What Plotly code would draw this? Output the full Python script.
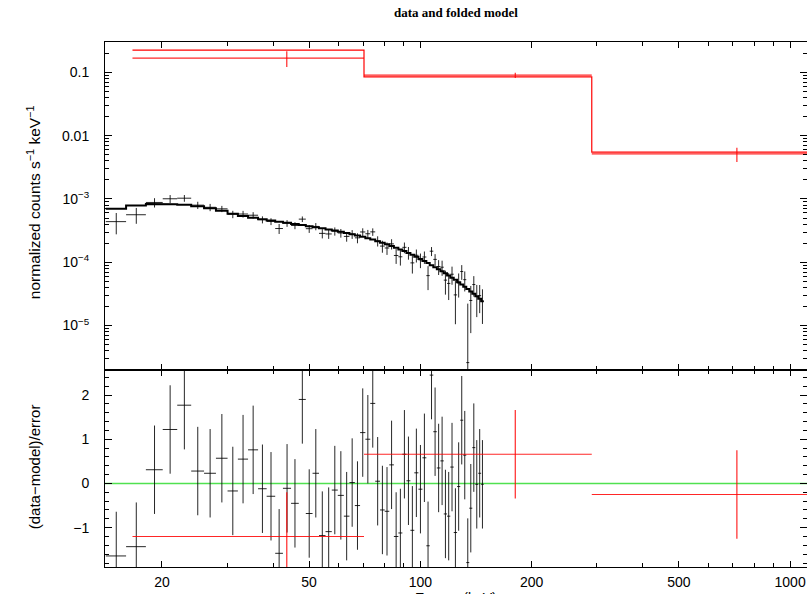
import plotly.graph_objects as go

# ---- spectrum 1 (black): channel edges in keV, folded model, data, 1-sigma errors ----
edges = [14.1, 16.0, 18.1, 20.1, 22.0, 24.0, 26.0, 28.0, 30.1, 32.1, 34.2, 36.4,
         38.4, 40.5, 42.5, 44.7, 46.9, 49.0, 51.1, 53.2, 55.4, 57.6, 59.8, 62.1,
         64.3, 66.5, 68.7, 71.0, 73.2, 75.5, 77.8, 80.1, 82.4, 84.8, 87.2, 89.4,
         91.7, 94.0, 96.3, 98.8, 101.3, 103.8, 106.0, 108.4, 110.8, 113.3, 115.7,
         118.1, 120.5, 123.1, 125.7, 128.2, 130.6, 133.1, 135.6, 138.2, 140.8,
         143.4, 146.0, 148.4]

model = [7.03e-4, 7.89e-4, 8.34e-4, 8.28e-4, 8.07e-4, 7.69e-4, 7.16e-4, 6.53e-4,
         5.86e-4, 5.39e-4, 5.03e-4, 4.78e-4, 4.57e-4, 4.38e-4, 4.19e-4, 4.03e-4,
         3.88e-4, 3.72e-4, 3.57e-4, 3.43e-4, 3.30e-4, 3.16e-4, 3.02e-4, 2.89e-4,
         2.77e-4, 2.65e-4, 2.52e-4, 2.40e-4, 2.28e-4, 2.15e-4, 2.03e-4, 1.92e-4,
         1.80e-4, 1.69e-4, 1.59e-4, 1.50e-4, 1.40e-4, 1.31e-4, 1.22e-4, 1.13e-4,
         1.05e-4, 9.71e-5, 9.00e-5, 8.37e-5, 7.75e-5, 7.21e-5, 6.70e-5, 6.19e-5,
         5.71e-5, 5.27e-5, 4.85e-5, 4.46e-5, 4.12e-5, 3.77e-5, 3.46e-5, 3.17e-5,
         2.90e-5, 2.65e-5, 2.43e-5]

flux = [4.38e-4, 5.63e-4, 8.80e-4, 1.006e-3, 1.028e-3, 7.98e-4, 7.38e-4, 6.98e-4,
        5.73e-4, 5.78e-4, 5.53e-4, 4.71e-4, 4.41e-4, 3.41e-4, 4.13e-4, 3.81e-4,
        4.80e-4, 3.39e-4, 3.68e-4, 2.86e-4, 2.80e-4, 3.09e-4, 2.90e-4, 2.56e-4,
        2.78e-4, 2.43e-4, 3.01e-4, 2.82e-4, 3.02e-4, 2.17e-4, 1.80e-4, 1.68e-4,
        1.95e-4, 1.28e-4, 1.22e-4, 1.72e-4, 1.42e-4, 9.77e-5, 1.29e-4, 1.09e-4,
        1.21e-4, 6.15e-5, 1.495e-4, 1.11e-4, 8.54e-5, 8.35e-5, 5.22e-5, 4.63e-5,
        6.47e-5, 3.05e-5, 4.71e-5, 7.14e-5, 5.31e-5, 2.6e-6, 2.49e-5, 4.45e-5,
        2.87e-5, 2.97e-5, 2.40e-5]

flux_err = [1.62e-4, 1.58e-4, 1.48e-4, 1.46e-4, 1.25e-4, 1.04e-4, 9.67e-5, 7.84e-5,
            7.62e-5, 7.01e-5, 6.54e-5, 5.98e-5, 5.48e-5, 6.13e-5, 5.03e-5, 4.84e-5,
            4.85e-5, 4.84e-5, 4.82e-5, 4.80e-5, 4.62e-5, 4.58e-5, 4.53e-5, 4.48e-5,
            4.43e-5, 4.37e-5, 4.28e-5, 4.20e-5, 4.10e-5, 3.98e-5, 3.86e-5, 3.74e-5,
            3.60e-5, 3.38e-5, 3.34e-5, 3.30e-5, 3.22e-5, 3.14e-5, 2.99e-5, 2.83e-5,
            2.68e-5, 2.52e-5, 2.43e-5, 2.34e-5, 2.25e-5, 2.24e-5, 2.14e-5, 2.10e-5,
            2.06e-5, 2.00e-5, 1.94e-5, 1.87e-5, 1.85e-5, 1.96e-5, 1.73e-5, 1.585e-5,
            1.51e-5, 1.40e-5, 1.34e-5]

resid = [-1.64, -1.43, 0.31, 1.22, 1.77, 0.28, 0.23, 0.57, -0.17, 0.55, 0.76, -0.12,
         -0.29, -1.58, -0.11, -0.45, 1.90, -0.68, 0.23, -1.18, -1.09, -0.15, -0.27,
         -0.74, 0.02, -0.50, 1.15, 1.00, 1.81, 0.05, -0.60, -0.63, 0.42, -1.20,
         -1.12, 0.66, 0.06, -1.06, 0.24, -0.13, 0.58, -1.41, 2.45, 1.17, 0.35, 0.51,
         -0.69, -0.74, 0.37, -1.11, -0.07, 1.43, 0.64, -1.79, -0.56, 0.81, -0.02,
         0.23, -0.02]

# ---- spectrum 2 (red): three wide channels ----
red_edges = [16.65, 70.4, 290.8, 1145.0]
red_model = [0.225, 0.0845, 0.00547]
red_flux = [0.168, 0.0901, 0.00514]
red_err = [0.047, 0.0085, 0.0013]
red_resid = [-1.20, 0.66, -0.25]

# ---- axis tick labels ----
x_tickvals = [20, 50, 100, 200, 500, 1000]
x_ticktext = ["20", "50", "100", "200", "500", "1000"]
y_tickvals = [1e-5, 1e-4, 1e-3, 0.01, 0.1]
y_ticktext = ["10<sup>−5</sup>", "10<sup>−4</sup>", "10<sup>−3</sup>", "0.01", "0.1"]
r_tickvals = [-1, 0, 1, 2]
r_ticktext = ["−1", "0", "1", "2"]


def step_line(e, vals):
    xs, ys = [], []
    for i, v in enumerate(vals):
        xs += [e[i], e[i + 1]]
        ys += [v, v]
    return xs, ys


def crosses(e, yc, ylo, yhi):
    xs, ys = [], []
    for i in range(len(yc)):
        c = 0.5 * (e[i] + e[i + 1])
        xs += [e[i], e[i + 1], None, c, c, None]
        ys += [yc[i], yc[i], None, ylo[i], yhi[i], None]
    return xs, ys


def flux_bars(f, err):
    lo = [v - s if v - s > 0 else 1e-9 for v, s in zip(f, err)]
    hi = [v + s for v, s in zip(f, err)]
    return lo, hi


fig = go.Figure()

BLACK = "rgba(0,0,0,0.85)"
RED = "rgba(255,0,0,0.85)"

# upper panel: data and folded model
lo, hi = flux_bars(flux, flux_err)
xs, ys = crosses(edges, flux, lo, hi)
fig.add_trace(go.Scatter(x=xs, y=ys, mode="lines", line=dict(color=BLACK, width=1),
                         xaxis="x2", yaxis="y", hoverinfo="skip"))
xs, ys = step_line(edges, model)
fig.add_trace(go.Scatter(x=xs, y=ys, mode="lines", line=dict(color="black", width=2),
                         xaxis="x2", yaxis="y", hoverinfo="skip"))

lo, hi = flux_bars(red_flux, red_err)
xs, ys = crosses(red_edges, red_flux, lo, hi)
fig.add_trace(go.Scatter(x=xs, y=ys, mode="lines", line=dict(color=RED, width=1.2),
                         xaxis="x2", yaxis="y", hoverinfo="skip"))
xs, ys = step_line(red_edges, red_model)
fig.add_trace(go.Scatter(x=xs, y=ys, mode="lines", line=dict(color="red", width=1.2),
                         xaxis="x2", yaxis="y", hoverinfo="skip"))

# lower panel: residuals in units of sigma
xs, ys = crosses(edges, resid, [r - 1 for r in resid], [r + 1 for r in resid])
fig.add_trace(go.Scatter(x=xs, y=ys, mode="lines", line=dict(color=BLACK, width=1),
                         xaxis="x", yaxis="y2", hoverinfo="skip"))
xs, ys = crosses(red_edges, red_resid, [r - 1 for r in red_resid], [r + 1 for r in red_resid])
fig.add_trace(go.Scatter(x=xs, y=ys, mode="lines", line=dict(color=RED, width=1.2),
                         xaxis="x", yaxis="y2", hoverinfo="skip"))

fig.add_shape(type="line", xref="x domain", x0=0, x1=1, yref="y2", y0=0, y1=0,
              line=dict(color="rgb(80,225,80)", width=1.6), layer="below")

minor_x = [k * 10 ** d for d in (1, 2, 3) for k in range(2, 10)]
minor_y = [k * 10 ** d for d in range(-6, 0) for k in range(2, 10)]

frame = dict(showline=True, linecolor="black", linewidth=1, mirror="ticks",
             ticks="inside", tickcolor="black", tickwidth=1, showgrid=False,
             zeroline=False)

x_common = dict(type="log", range=[1.1471, 3.0457], tickvals=x_tickvals,
                ticktext=x_ticktext, ticklen=6,
                minor=dict(tickvals=minor_x, ticks="inside", ticklen=4,
                           tickcolor="black", showgrid=False), **frame)

fig.update_layout(
    width=807, height=594,
    margin=dict(l=105, r=0, t=42, b=27),
    plot_bgcolor="white", paper_bgcolor="white", showlegend=False,
    font=dict(family="Liberation Sans, Arial, sans-serif", size=14, color="black"),
    xaxis=dict(domain=[0, 1], anchor="y2", ticklabelstandoff=2, **x_common),
    xaxis2=dict(domain=[0, 1], anchor="y", matches="x", showticklabels=False, **x_common),
    yaxis=dict(domain=[0.3745, 1], anchor="x2", type="log", range=[-5.708, -0.521],
               tickvals=y_tickvals, ticktext=y_ticktext, ticklen=7,
               ticklabelstandoff=12,
               minor=dict(tickvals=minor_y, ticks="inside", ticklen=4,
                          tickcolor="black", showgrid=False), **frame),
    yaxis2=dict(domain=[0, 0.3745], anchor="x", range=[-1.89, 2.557],
                tickvals=r_tickvals, ticktext=r_ticktext, ticklen=7,
                ticklabelstandoff=12,
                minor=dict(dtick=0.2, ticks="inside", ticklen=4,
                           tickcolor="black", showgrid=False), **frame),
)

fig.add_annotation(text="<b>data and folded model</b>", xref="paper", yref="paper",
                   x=0.5, y=1, yanchor="middle", yshift=30, showarrow=False,
                   font=dict(family="Liberation Serif, Times New Roman, serif", size=13))
fig.add_annotation(text="normalized counts s<sup>−1</sup> keV<sup>−1</sup>",
                   xref="paper", yref="paper", x=0, y=0.695, xshift=-71,
                   xanchor="center", yanchor="middle",
                   textangle=-90, showarrow=False, font=dict(size=15.5))
fig.add_annotation(text="(data−model)/error", xref="paper", yref="paper",
                   x=0, y=0.19, xshift=-71, xanchor="center", yanchor="middle",
                   textangle=-90, showarrow=False, font=dict(size=15))
fig.add_annotation(text="Energy (keV)", xref="paper", yref="paper", x=0.5, y=0,
                   yanchor="top", yshift=-21, showarrow=False, font=dict(size=14))

fig.write_html("out.html")
